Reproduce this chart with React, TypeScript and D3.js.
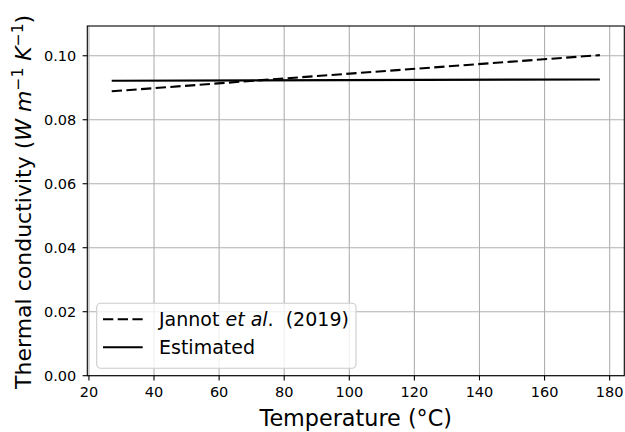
import React from "react";
import * as d3 from "d3";

const jannotT = [27, 177];
const jannotK = [0.0889, 0.1002];
const estT = [27, 177];
const estK = [0.0922, 0.0926];
const xTicks = [20, 40, 60, 80, 100, 120, 140, 160, 180];
const yTicks = [0, 0.02, 0.04, 0.06, 0.08, 0.1];

const W = 625;
const H = 432;
const left = 87.3;
const right = 624.3;
const top = 26;
const bottom = 375.7;

export default function App() {
  const x = d3.scaleLinear().domain([19.5, 184.5]).range([left, right]);
  const y = d3.scaleLinear().domain([0, 0.1093]).range([bottom, top]);
  const line = d3
    .line<[number, number]>()
    .x((d) => x(d[0]))
    .y((d) => y(d[1]));
  const jannot = jannotT.map((t, i) => [t, jannotK[i]] as [number, number]);
  const est = estT.map((t, i) => [t, estK[i]] as [number, number]);
  const font = "DejaVu Sans, sans-serif";
  return (
    <svg
      width={W}
      height={H}
      style={{ position: "absolute", left: 0, top: 0, background: "#fff" }}
      fontFamily={font}
    >
      <rect x={0} y={0} width={W} height={H} fill="#fff" />
      {xTicks.map((t) => (
        <line key={"gx" + t} x1={x(t)} x2={x(t)} y1={top} y2={bottom} stroke="#b0b0b0" strokeWidth={1.1} />
      ))}
      {yTicks.map((t) => (
        <line key={"gy" + t} x1={left} x2={right} y1={y(t)} y2={y(t)} stroke="#b0b0b0" strokeWidth={1.1} />
      ))}
      <path d={line(jannot) || ""} fill="none" stroke="#000" strokeWidth={2.1} strokeDasharray="10.3,4.4" />
      <path d={line(est) || ""} fill="none" stroke="#000" strokeWidth={2.1} />
      <rect x={left} y={top} width={right - left} height={bottom - top} fill="none" stroke="#000" strokeWidth={1.1} />
      {xTicks.map((t) => (
        <g key={"tx" + t}>
          <line x1={x(t)} x2={x(t)} y1={bottom} y2={bottom + 4.7} stroke="#000" strokeWidth={1.1} />
          <text x={x(t)} y={bottom + 21.5} textAnchor="middle" fontSize={14.5} fill="#000">
            {t}
          </text>
        </g>
      ))}
      {yTicks.map((t) => (
        <g key={"ty" + t}>
          <line x1={left - 4.7} x2={left} y1={y(t)} y2={y(t)} stroke="#000" strokeWidth={1.1} />
          <text x={left - 11} y={y(t) + 5.2} textAnchor="end" fontSize={14.5} fill="#000">
            {t.toFixed(2)}
          </text>
        </g>
      ))}
      <text x={(left + right) / 2} y={426} textAnchor="middle" fontSize={22.3} fill="#000">
        Temperature (°C)
      </text>
      <text
        transform={`translate(31,${(top + bottom) / 2 + 1}) rotate(-90)`}
        textAnchor="middle"
        fontSize={22}
        fill="#000"
      >
        <tspan>Thermal conductivity (</tspan>
        <tspan fontStyle="italic">W m</tspan>
        <tspan dy={-8} fontSize={15.5}>−1</tspan>
        <tspan dy={8} fontStyle="italic"> K</tspan>
        <tspan dy={-8} fontSize={15.5}>−1</tspan>
        <tspan dy={8}>)</tspan>
      </text>
      <g>
        <rect x={96.7} y={303.3} width={259.3} height={65} rx={4} fill="#fff" fillOpacity={0.8} stroke="#cccccc" strokeWidth={1.1} />
        <line x1={103} x2={142.7} y1={319.3} y2={319.3} stroke="#000" strokeWidth={2.1} strokeDasharray="10.3,4.4" />
        <text x={159} y={326.3} fontSize={19} fill="#000">
          Jannot <tspan fontStyle="italic">et al</tspan>.{"\u00a0\u00a0"}(2019)
        </text>
        <line x1={103} x2={142.7} y1={347.3} y2={347.3} stroke="#000" strokeWidth={2.1} />
        <text x={159} y={354.3} fontSize={19} fill="#000">
          Estimated
        </text>
      </g>
    </svg>
  );
}
